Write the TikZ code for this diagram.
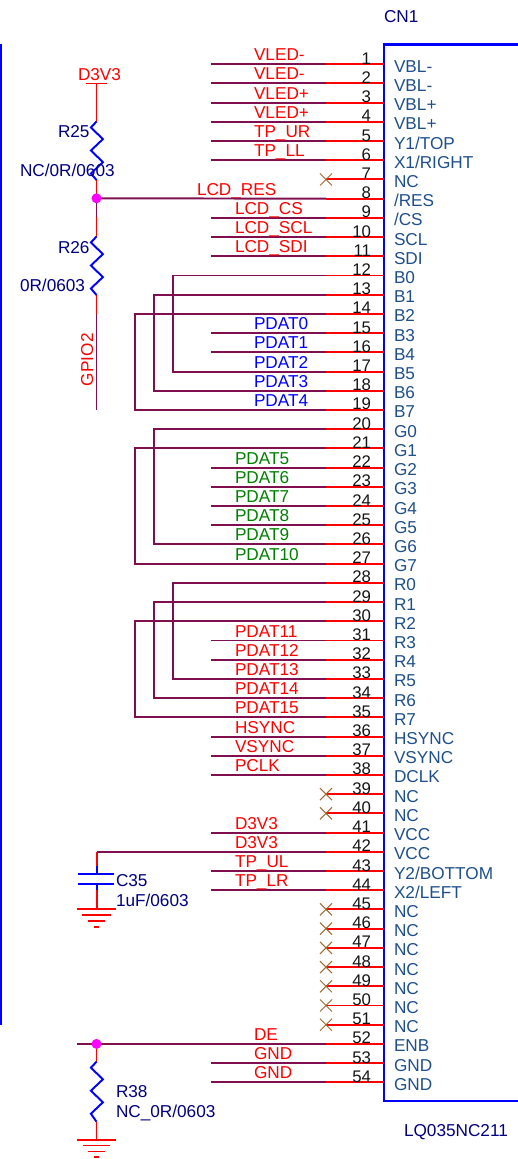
\documentclass[tikz,border=0pt]{standalone}
\usepackage{fontspec}
\setmainfont{Liberation Sans}
\definecolor{wirec}{HTML}{7F0F4F}
\definecolor{pinc}{HTML}{FF0000}
\definecolor{partc}{HTML}{000080}
\definecolor{namec}{HTML}{1F4F8A}
\definecolor{numc}{HTML}{151515}
\definecolor{boxc}{HTML}{0000FF}
\definecolor{ncc}{HTML}{A06A30}
\definecolor{dotc}{HTML}{FF00FF}
\definecolor{greenc}{HTML}{008000}
\tikzset{
  x=1pt,y=-1pt,
  wire/.style={draw=wirec,line width=1.95pt},
  pinline/.style={draw=pinc,line width=1.95pt},
  comp/.style={draw=boxc,line width=1.95pt},
  ncmark/.style={draw=ncc,line width=1pt},
  txt/.style={inner sep=0pt,outer sep=0pt,font=\fontsize{17.2}{20}\selectfont},
  net/.style={txt,anchor=base west,text=pinc},
  netblue/.style={net,text=boxc},
  netgreen/.style={net,text=greenc},
  part/.style={txt,anchor=base west,text=partc},
  pname/.style={txt,anchor=base west,text=namec},
  pnum/.style={txt,anchor=base east,text=numc,font=\fontsize{16.8}{20}\selectfont},
  dot/.style={circle,fill=dotc,inner sep=0pt,minimum size=10pt},
}
\begin{document}
\begin{tikzpicture}
\useasboundingbox (0,0) rectangle (517,1159);
% connector box
\draw[comp,line width=2.2pt] (520,44.5) -- (384,44.5) -- (384,1101) -- (520,1101);
\draw[comp,line width=2.4pt] (0.8,44) -- (0.8,1025);
% pins
\foreach \n/\lab in {1/VBL-,2/VBL-,3/VBL+,4/VBL+,5/Y1\slash TOP,6/X1\slash RIGHT,7/NC,8/\slash RES,9/\slash CS,10/SCL,11/SDI,12/B0,13/B1,14/B2,15/B3,16/B4,17/B5,18/B6,19/B7,20/G0,21/G1,22/G2,23/G3,24/G4,25/G5,26/G6,27/G7,28/R0,29/R1,30/R2,31/R3,32/R4,33/R5,34/R6,35/R7,36/HSYNC,37/VSYNC,38/DCLK,39/NC,40/NC,41/VCC,42/VCC,43/Y2\slash BOTTOM,44/X2\slash LEFT,45/NC,46/NC,47/NC,48/NC,49/NC,50/NC,51/NC,52/ENB,53/GND,54/GND}{
  \pgfmathsetmacro{\py}{64.2+19.21*(\n-1)}
  \coordinate (e\n) at (384,\py);
  \coordinate (m\n) at (326,\py);
  \coordinate (s\n) at (211,\py);
  \draw[pinline] (m\n) -- (e\n);
  \node[pnum] (num\n) at (371,\py) {\n};
  \node[pname] (pn\n) at (394,\py+8) {\lab};
}
% straight stubs with labels
\foreach \n in {1,...,6,9,10,11,15,16,22,23,24,25,31,32,36,37,38,41,43,44,53,54}{
  \draw[wire] (s\n) -- (m\n);
}
% NC marks
\foreach \n in {7,39,40,45,46,47,48,49,50,51}{
  \draw[ncmark] ([shift={(-6,-6)}]m\n) -- ([shift={(6,6)}]m\n);
  \draw[ncmark] ([shift={(-6,6)}]m\n) -- ([shift={(6,-6)}]m\n);
}
% net labels
\foreach \n/\t/\lx in {1/VLED-/254,2/VLED-/254,3/VLED+/254,4/VLED+/254,5/TP\_UR/254,6/TP\_LL/254,8/LCD\_RES/197,9/LCD\_CS/235,10/LCD\_SCL/235,11/LCD\_SDI/235,31/PDAT11/235,32/PDAT12/235,33/PDAT13/235,34/PDAT14/235,35/PDAT15/235,36/HSYNC/235,37/VSYNC/235,38/PCLK/235,41/D3V3/235,42/D3V3/235,43/TP\_UL/235,44/TP\_LR/235,52/DE/254,53/GND/254,54/GND/254}{
  \pgfmathsetmacro{\py}{64.2+19.21*(\n-1)-3.5}
  \node[net] (lab\n) at (\lx,\py) {\t};
}
\foreach \n/\t in {15/PDAT0,16/PDAT1,17/PDAT2,18/PDAT3,19/PDAT4}{
  \pgfmathsetmacro{\py}{64.2+19.21*(\n-1)-3.5}
  \node[netblue] (lab\n) at (254,\py) {\t};
}
\foreach \n/\t in {22/PDAT5,23/PDAT6,24/PDAT7,25/PDAT8,26/PDAT9,27/PDAT10}{
  \pgfmathsetmacro{\py}{64.2+19.21*(\n-1)-3.5}
  \node[netgreen] (lab\n) at (235,\py) {\t};
}
% loop-back buses
\foreach \a/\b/\bx in {12/17/173,13/18/154,14/19/135,20/26/154,21/27/135,28/33/173,29/34/154,30/35/135}{
  \draw[wire] (m\a) -- (\bx,0 |- m\a) -- (\bx,0 |- m\b) -- (m\b);
}
% R25, R26
\coordinate (vcc) at (96.5,83.5);
\coordinate (r25t) at (96.5,121.5);
\coordinate (r25b) at (96.5,180);
\coordinate (r26t) at (96.5,236.5);
\coordinate (r26b) at (96.5,295);
\coordinate (gpioa) at (96.5,314);
\coordinate (gpiob) at (96.5,410);
\coordinate (redb) at (96.5,217);
\coordinate (jc1) at (96.5,198.3);
\draw[wire] (jc1) -- (m8);
\draw[pinline] (vcc) -- (r25t);
\draw[pinline] (86,83.5) -- (107,83.5);
\draw[comp] (r25t) -- ++(-5.6,6) -- ++(12,11.6) -- ++(-12,11.4) -- ++(12,11.6) -- ++(-12,11.4) -- (r25b);
\draw[pinline] (r25b) -- (jc1);
\draw[wire] (jc1) -- (redb);
\draw[pinline] (redb) -- (r26t);
\draw[comp] (r26t) -- ++(-5.6,6) -- ++(12,11.6) -- ++(-12,11.4) -- ++(12,11.6) -- ++(-12,11.4) -- (r26b);
\draw[pinline] (r26b) -- (gpioa);
\draw[wire] (gpioa) -- (gpiob);
\node[dot] (j1) at (jc1) {};
\node[net,text=pinc] (d3v3) at (78,80) {D3V3};
\node[part] (r25n) at (58,137) {R25};
\node[part] (r25v) at (20,176.7) {NC/0R/0603};
\node[part] (r26n) at (58,253) {R26};
\node[part] (r26v) at (20,291.7) {0R/0603};
\node[txt,text=pinc,rotate=90,anchor=base west] (gpio) at (93,386) {GPIO2};
% C35
\coordinate (c35j) at (97,0 |- m42);
\coordinate (c35t) at (97,866);
\coordinate (c35u) at (97,874.3);
\coordinate (c35l) at (97,884.3);
\coordinate (c35d) at (97,890);
\coordinate (g1) at (97,908.7);
\draw[wire] (m42) -- (c35j);
\draw[pinline] (c35j) -- (c35t);
\draw[comp] (c35t) -- (c35u);
\draw[comp] (78,874.3) -- (114,874.3);
\draw[comp] (78,884.3) -- (114,884.3);
\draw[comp] (c35l) -- (c35d);
\draw[pinline] (c35d) -- (g1);
\draw[pinline] (77,908.7) -- (116,908.7);
\draw[pinline] (82,914.7) -- (111,914.7);
\draw[pinline] (88,920.7) -- (105,920.7);
\draw[pinline] (94,926.7) -- (99,926.7);
\node[part] (c35n) at (116,886.7) {C35};
\node[part] (c35v) at (116,906) {1uF/0603};
% R38
\coordinate (jc2) at (96.5,0 |- m52);
\coordinate (de) at (77,0 |- m52);
\coordinate (r38t) at (96.5,1061.7);
\coordinate (r38b) at (96.5,1121.7);
\coordinate (g2) at (96.5,1140);
\draw[wire] (de) -- (m52);
\draw[pinline] (jc2) -- (r38t);
\draw[comp] (r38t) -- ++(-5.6,6) -- ++(12,11.6) -- ++(-12,11.4) -- ++(12,11.6) -- ++(-12,11.4) -- (r38b);
\draw[pinline] (r38b) -- (g2);
\draw[pinline] (77,1140) -- (116,1140);
\draw[pinline] (83,1145.5) -- (110,1145.5);
\draw[pinline] (88,1151.5) -- (105,1151.5);
\draw[pinline] (94,1157) -- (99,1157);
\node[dot] (j2) at (jc2) {};
\node[part] (r38n) at (116,1097.7) {R38};
\node[part] (r38v) at (116,1117) {NC\_0R/0603};
% part labels
\node[part] (cn1) at (384,22) {CN1};
\node[part] (lq) at (404,1136) {LQ035NC211};
\end{tikzpicture}
\end{document}
